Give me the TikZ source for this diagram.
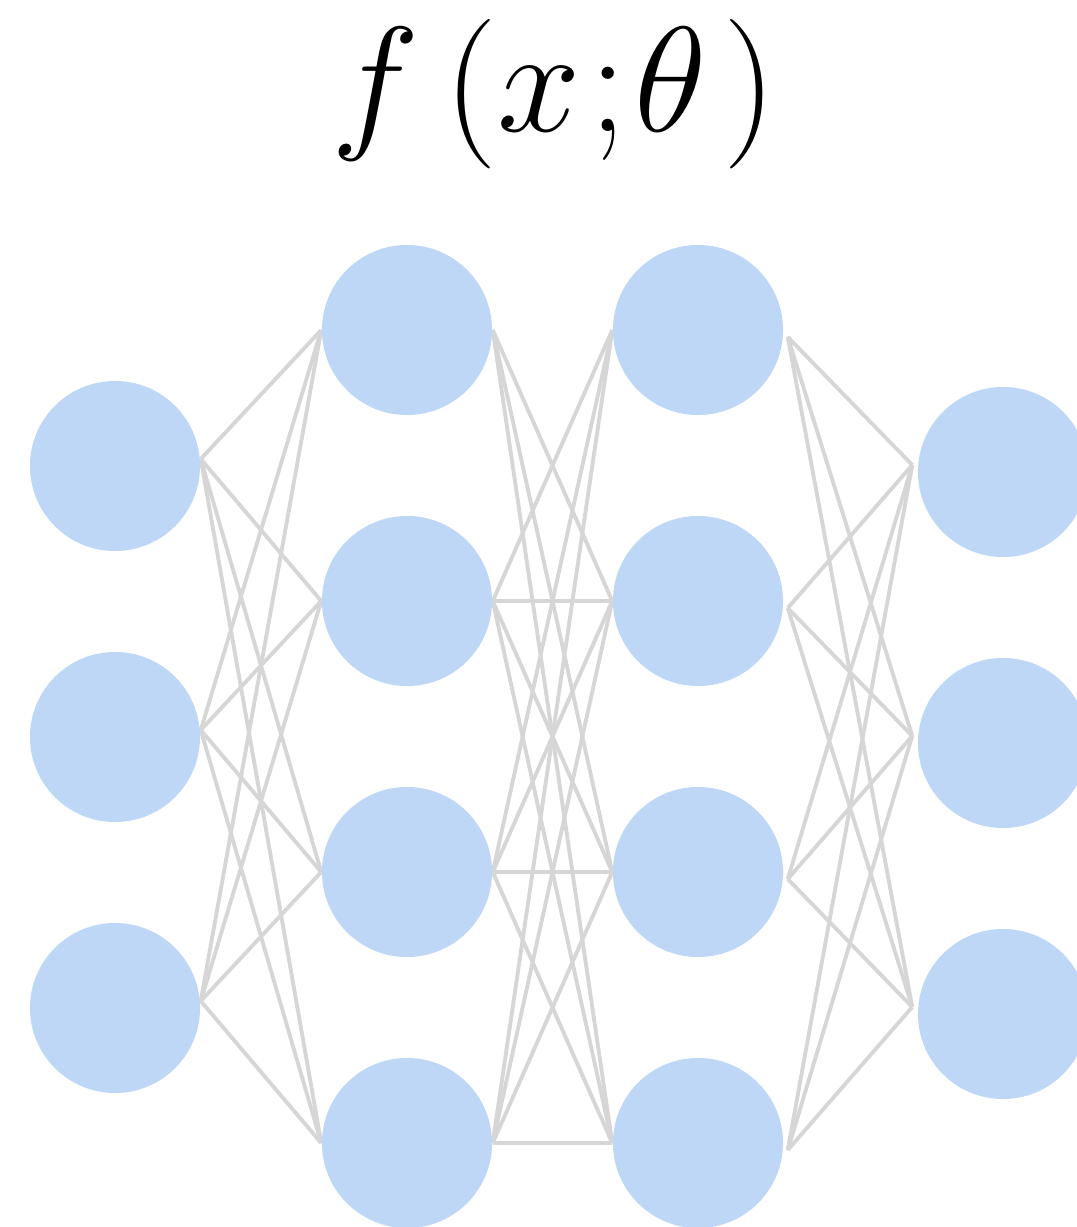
\documentclass[tikz,border=0pt]{standalone}
\usepackage{graphicx}
\usetikzlibrary{backgrounds}
\definecolor{neuron}{RGB}{190,215,247}
\definecolor{wire}{RGB}{214,214,214}
\tikzset{
  neuronnode/.style={circle,fill=neuron,draw=none,minimum size=1.70cm,inner sep=0pt},
  wireline/.style={draw=wire,line width=1.1pt},
}
\begin{document}
\begin{tikzpicture}[x=0.01cm,y=-0.01cm]
\useasboundingbox (0,0) rectangle (1077,1227);
% title
\node[anchor=base,inner sep=0pt,font=\Huge] (title) at (554,131)
  {\scalebox{1.71}{$f\,(x\mkern1mu{;}\mkern1mu\theta\mkern2mu)$}};
% layer 1
\node[neuronnode] (a1) at (115,466) {};
\node[neuronnode] (a2) at (115,737) {};
\node[neuronnode] (a3) at (115,1008) {};
% layer 2
\node[neuronnode] (b1) at (407,330) {};
\node[neuronnode] (b2) at (407,601) {};
\node[neuronnode] (b3) at (407,872) {};
\node[neuronnode] (b4) at (407,1143) {};
% layer 3
\node[neuronnode] (c1) at (698,330) {};
\node[neuronnode] (c2) at (698,601) {};
\node[neuronnode] (c3) at (698,872) {};
\node[neuronnode] (c4) at (698,1143) {};
% layer 4
\node[neuronnode] (d1) at (1003,472) {};
\node[neuronnode] (d2) at (1003,743) {};
\node[neuronnode] (d3) at (1003,1014) {};
\begin{scope}[on background layer]
\foreach \i in {1,2,3}{
  \foreach \j in {1,2,3,4}{
    \draw[wireline] ([yshift=0.07cm]a\i.east) -- (b\j.west);
  }
}
\foreach \i/\j in {1/2,1/3,1/4,2/1,2/2,2/3,2/4,3/1,3/2,3/3,3/4,4/1,4/2,4/3,4/4}{
  \draw[wireline] (b\i.east) -- (c\j.west);
}
\foreach \i in {1,2,3,4}{
  \foreach \j in {1,2,3}{
    \draw[wireline] ([xshift=0.04cm,yshift=-0.07cm]c\i.east) -- ([xshift=-0.05cm,yshift=0.07cm]d\j.west);
  }
}
\end{scope}
\end{tikzpicture}
\end{document}
